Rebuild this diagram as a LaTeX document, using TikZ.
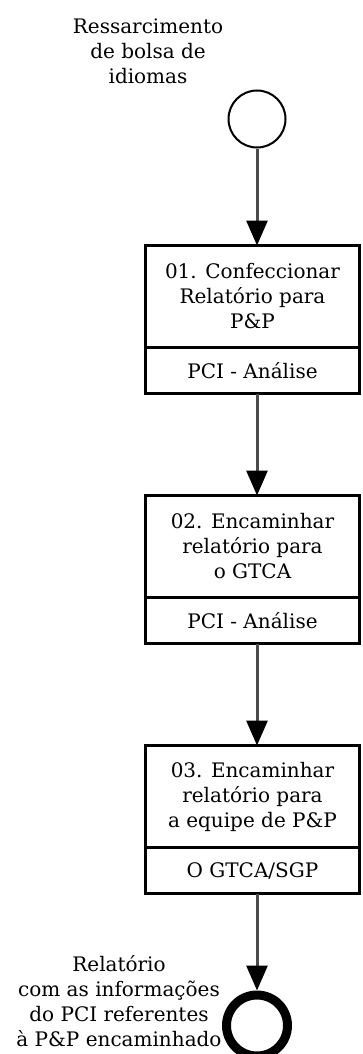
\documentclass[tikz,border=0pt]{standalone}
\usepackage{fontspec}
\setmainfont{DejaVu Serif}
\usepackage{tikz}
\usetikzlibrary{arrows.meta, positioning}
\tikzset{
  txt/.style={align=center, font=\fontsize{20}{25}\selectfont},
  blk/.style={txt, rectangle, draw=black, line width=2.4pt, outer sep=0pt, minimum width=214pt, inner sep=2pt},
  task/.style={blk, minimum height=102pt},
  role/.style={blk, minimum height=46pt},
  evstart/.style={circle, draw=black, line width=2pt, minimum size=57pt, inner sep=0pt},
  evend/.style={circle, draw=black, line width=9pt, minimum size=61pt, inner sep=0pt},
  lab/.style={txt},
  arr/.style={-{Triangle[length=25pt, width=21pt, color=black]}, line width=3pt, draw=black!70},
}
\begin{document}
\begin{tikzpicture}[x=1pt, y=-1pt]
  \useasboundingbox (0,0) rectangle (362,1054);
  \node[evstart] (start) at (257,119) {};
  \node[lab] (startlab) at (148,51) {Ressarcimento\\de bolsa de\\idiomas};
  \node[task, below=97pt of start, xshift=-4.5pt] (t1) {01. Confeccionar\\Relatório para\\P\&P};
  \node[role, below=0pt of t1] (r1) {PCI - Análise};
  \node[task, below=102pt of r1] (t2) {02. Encaminhar\\relatório para\\o GTCA};
  \node[role, below=0pt of t2] (r2) {PCI - Análise};
  \node[task, below=102pt of r2] (t3) {03. Encaminhar\\relatório para\\a equipe de P\&P};
  \node[role, below=0pt of t3] (r3) {O GTCA/SGP};
  \node[evend, below=97pt of r3, xshift=4.5pt] (end) {};
  \node[lab] (endlab) at (119,1001) {Relatório\\com as informações\\do PCI referentes\\à P\&P encaminhado};
  \draw[arr] (start.south) -- (start.south |- t1.north);
  \draw[arr] (start.south |- r1.south) -- (start.south |- t2.north);
  \draw[arr] (start.south |- r2.south) -- (start.south |- t3.north);
  \draw[arr] (end.north |- r3.south) -- (end.north);
\end{tikzpicture}
\end{document}
